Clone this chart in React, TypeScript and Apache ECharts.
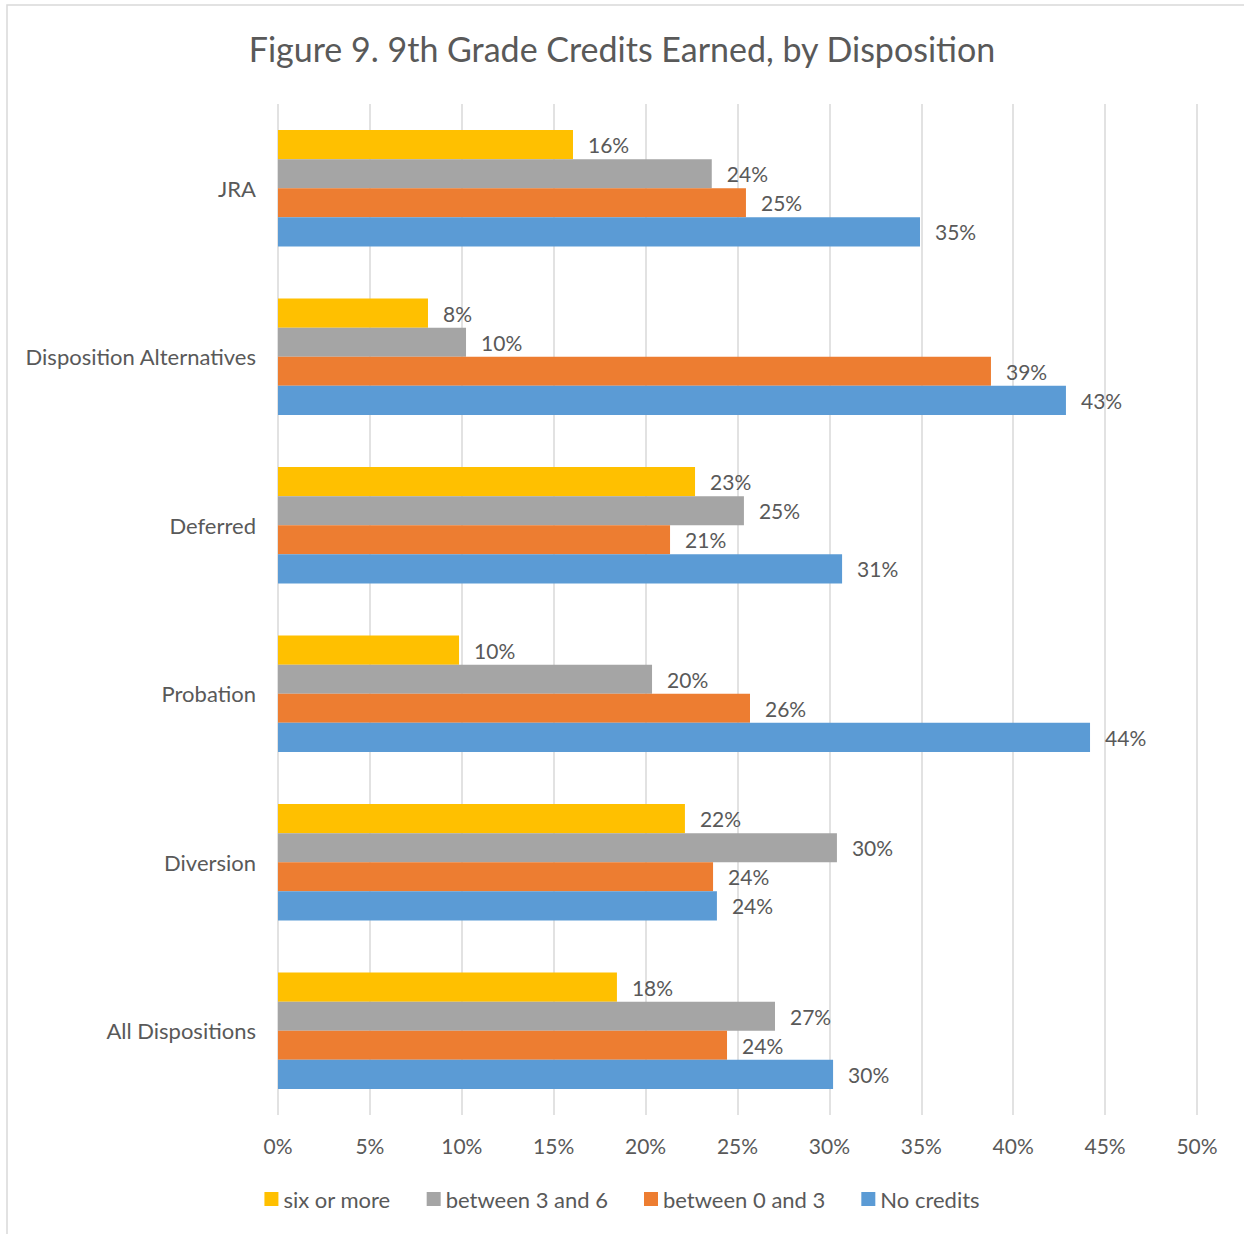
import React, { useEffect, useRef } from "react";
import * as echarts from "echarts";

const categories = ["JRA", "Disposition Alternatives", "Deferred", "Probation", "Diversion", "All Dispositions"];
const seriesNames = ["six or more", "between 3 and 6", "between 0 and 3", "No credits"];
const sixOrMore = [16.05, 8.16, 22.69, 9.85, 22.14, 18.44];
const between3and6 = [23.6, 10.23, 25.35, 20.35, 30.41, 27.04];
const between0and3 = [25.46, 38.79, 21.33, 25.68, 23.67, 24.43];
const noCredits = [34.93, 42.87, 30.69, 44.18, 23.88, 30.2];
const seriesValues = [sixOrMore, between3and6, between0and3, noCredits];
const colors = ["#FFC000", "#A5A5A5", "#ED7D31", "#5B9BD5"];
const xTicks = { min: 0, max: 50, interval: 5 };

const FONT = "Lato";
const TEXT = "#595959";

export default function App() {
  const ref = useRef<HTMLDivElement>(null);
  useEffect(() => {
    if (!ref.current) return;
    const chart = echarts.init(ref.current, null, { renderer: "svg" });
    chart.setOption({
      animation: false,
      backgroundColor: "#ffffff",
      textStyle: { fontFamily: FONT, color: TEXT },
      title: {
        text: "Figure 9. 9th Grade Credits Earned, by Disposition",
        left: "center",
        top: 26,
        textStyle: { fontFamily: FONT, fontSize: 34, fontWeight: "normal", color: TEXT },
      },
      graphic: [
        {
          type: "rect",
          shape: { x: 7, y: 5, width: 1400, height: 1400 },
          style: { fill: "none", stroke: "#d9d9d9", lineWidth: 1.5 },
          silent: true,
        },
      ],
      legend: {
        bottom: 19,
        left: "center",
        icon: "rect",
        itemWidth: 14,
        itemHeight: 14,
        itemGap: 36,
        textStyle: { fontFamily: FONT, fontSize: 22, color: TEXT },
        data: seriesNames,
      },
      grid: { left: 278, right: 47, top: 104, bottom: 119 },
      xAxis: {
        type: "value",
        min: xTicks.min,
        max: xTicks.max,
        interval: xTicks.interval,
        axisLabel: { formatter: "{value}%", fontFamily: FONT, fontSize: 21, color: TEXT, margin: 20 },
        axisLine: { show: false },
        axisTick: { show: false },
        splitLine: { show: true, lineStyle: { color: "#d9d9d9", width: 1.5 } },
      },
      yAxis: {
        type: "category",
        inverse: true,
        data: categories,
        axisLabel: { fontFamily: FONT, fontSize: 22, color: TEXT, margin: 22 },
        axisLine: { show: false },
        axisTick: { show: false },
      },
      series: seriesNames.map((name, i) => ({
        name,
        type: "bar",
        data: seriesValues[i],
        itemStyle: { color: colors[i] },
        barGap: "0%",
        barCategoryGap: "31%",
        label: {
          show: true,
          position: "right",
          distance: 15,
          fontFamily: FONT,
          fontSize: 21,
          color: TEXT,
          formatter: (p: any) => Math.round(p.value) + "%",
        },
      })),
    });
    return () => chart.dispose();
  }, []);
  return <div ref={ref} style={{ position: "absolute", left: 0, top: 0, width: 1244, height: 1234 }} />;
}
